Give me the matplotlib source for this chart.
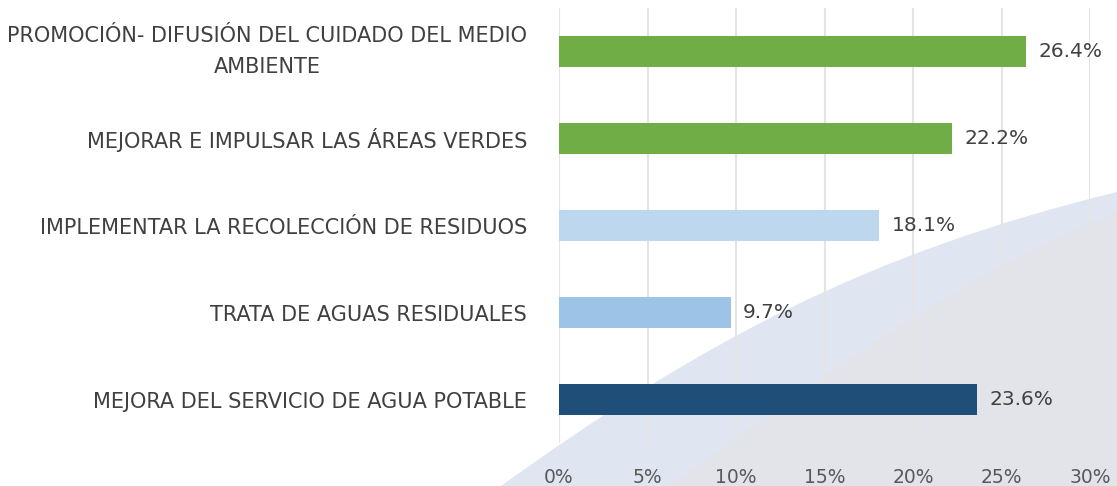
import matplotlib
matplotlib.use("Agg")
import matplotlib.pyplot as plt
from matplotlib.path import Path
from matplotlib.patches import PathPatch

categories = [
    "PROMOCIÓN- DIFUSIÓN DEL CUIDADO DEL MEDIO\nAMBIENTE",
    "MEJORAR E IMPULSAR LAS ÁREAS VERDES",
    "IMPLEMENTAR LA RECOLECCIÓN DE RESIDUOS",
    "TRATA DE AGUAS RESIDUALES",
    "MEJORA DEL SERVICIO DE AGUA POTABLE",
]
values = [26.4, 22.2, 18.1, 9.7, 23.6]
bar_colors = ["#70ad47", "#70ad47", "#bdd7ee", "#9dc3e6", "#1f4e79"]
xticks = [0, 5, 10, 15, 20, 25, 30]

plt.rcParams['font.family'] = ['DejaVu Sans']

W, H = 1117, 486
fig = plt.figure(figsize=(W / 100, H / 100), dpi=100)
fig.patch.set_facecolor("white")


def fig_path(points):
    # points in pixel coords (origin top-left) -> figure fraction
    return [(x / W, 1 - y / H) for x, y in points]


# decorative swoosh in the background
codes = [Path.MOVETO, Path.CURVE4, Path.CURVE4, Path.CURVE4,
         Path.LINETO, Path.CLOSEPOLY]
outer = fig_path([(501, 486), (701, 342), (867, 253), (1117, 192),
                  (1117, 486), (501, 486)])
fig.patches.append(PathPatch(Path(outer, codes), facecolor="#dfe6f2",
                             edgecolor="none", transform=fig.transFigure,
                             zorder=-2))
inner = fig_path([(669, 486), (819, 378), (967, 270), (1117, 212),
                  (1117, 486), (669, 486)])
fig.patches.append(PathPatch(Path(inner, codes), facecolor="#e3e3ea",
                             edgecolor="none", transform=fig.transFigure,
                             zorder=-1))

ax = fig.add_axes([559 / W, 1 - 443 / H, (1090 - 559) / W, 435 / H])
ax.patch.set_alpha(0)
ax.set_zorder(1)

y = list(range(len(categories)))
ax.barh(y, values, height=0.35, color=bar_colors, zorder=3)
for yi, v in zip(y, values):
    ax.annotate(f"{v:.1f}%", (v, yi), xytext=(9, 0), textcoords="offset points",
                va="center", ha="left", fontsize=14.5, color="#404040")

ax.set_xlim(0, 30)
ax.set_ylim(len(categories) - 0.5, -0.5)
ax.set_xticks(xticks)
ax.set_xticklabels([f"{t}%" for t in xticks])
ax.set_yticks(y)
ax.set_yticklabels(categories)
ax.tick_params(axis="x", length=0, pad=18, labelsize=13.5, labelcolor="#595959")
ax.tick_params(axis="y", length=0, pad=23, labelsize=15, labelcolor="#404040")
for lab in ax.get_yticklabels():
    lab.set_multialignment("center")
    lab.set_linespacing(1.65)
    if "\n" in lab.get_text():
        lab.set_verticalalignment("center")
ax.grid(axis="x", color="#e4e4e4", linewidth=1.5, zorder=0)
ax.set_axisbelow(True)
for s in ax.spines.values():
    s.set_visible(False)

fig.savefig("out.png", dpi=100)
